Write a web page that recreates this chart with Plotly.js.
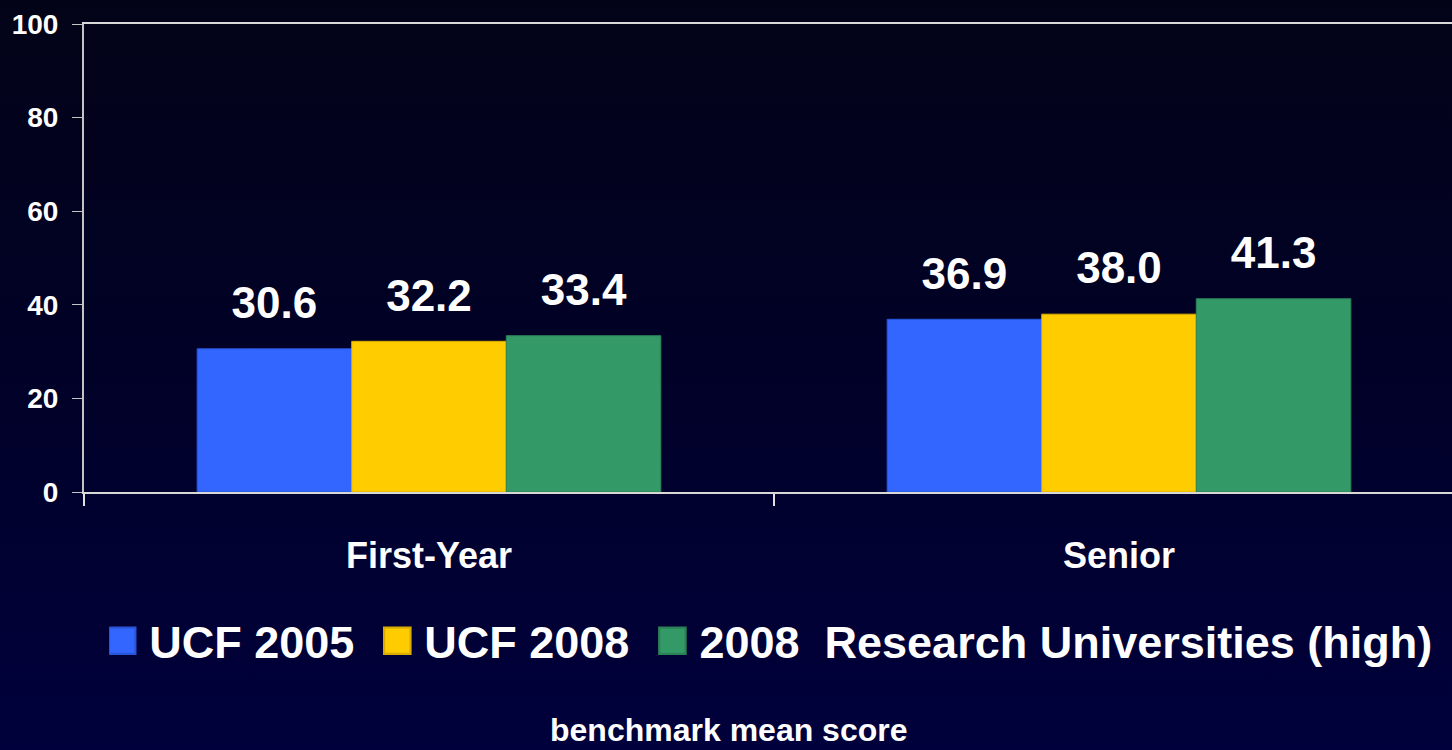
<!DOCTYPE html>
<html>
<head>
<meta charset="utf-8">
<script src="https://cdn.plot.ly/plotly-3.0.1.min.js"></script>
<style>
  html, body { margin: 0; padding: 0; }
  body { width: 1452px; height: 750px; background: linear-gradient(to bottom, #030318 0%, #010128 50%, #00003c 100%); }
  #chart { width: 1452px; height: 750px; }
</style>
</head>
<body>
<div id="chart"></div>
<script>
const categories = ["First-Year", "Senior"];
const seriesNames = ["UCF 2005", "UCF 2008", "2008\u00a0\u00a0Research Universities (high)"];
const ucf2005 = [30.6, 36.9];
const ucf2008 = [32.2, 38.0];
const research2008 = [33.4, 41.3];
const yTicks = [0, 20, 40, 60, 80, 100];
const axisTitle = "benchmark mean score";

const seriesValues = [ucf2005, ucf2008, research2008];
const colors = ["#3366FF", "#FFCC00", "#339966"];
const lineColors = ["#2a55d8", "#d9ad00", "#2b8257"];
const font = "Liberation Sans, Arial, sans-serif";
const legendPad = "\u00a0\u00a0";

const traces = [];
seriesValues.forEach((vals, i) => {
  traces.push({
    type: "bar",
    name: i < seriesNames.length - 1 ? seriesNames[i] + legendPad : seriesNames[i],
    x: categories,
    y: vals,
    marker: { color: colors[i], line: { color: lineColors[i], width: 1 } },
    hoverinfo: "skip",
    offsetgroup: "b" + i
  });
});
seriesValues.forEach((vals, i) => {
  traces.push({
    type: "scatter",
    mode: "markers+text",
    x: categories,
    y: vals,
    text: vals.map(v => v.toFixed(1)),
    textposition: "top center",
    textfont: { family: font, size: 44, color: "#ffffff", weight: "bold" },
    marker: { size: 30, color: "rgba(0,0,0,0)" },
    offsetgroup: "b" + i,
    showlegend: false,
    hoverinfo: "skip",
    cliponaxis: false
  });
});

const layout = {
  width: 1452,
  height: 750,
  margin: { l: 84, r: 0, t: 24, b: 258 },
  paper_bgcolor: "rgba(0,0,0,0)",
  plot_bgcolor: "rgba(0,0,0,0)",
  barmode: "group",
  bargap: 0.328,
  bargroupgap: 0,
  scattermode: "group",
  scattergap: 0.328,
  font: { family: font, color: "#ffffff", weight: "bold" },
  xaxis: {
    type: "category",
    range: [-0.5, 1.4826],
    showline: true,
    linecolor: "#d8d8d8",
    linewidth: 2,
    mirror: true,
    ticks: "outside",
    tickson: "boundaries",
    ticklen: 12,
    tickwidth: 2,
    tickcolor: "#e0e0e0",
    tickfont: { family: font, size: 36, color: "#ffffff", weight: "bold" },
    ticklabelstandoff: 31,
    showgrid: false,
    zeroline: false,
    fixedrange: true
  },
  yaxis: {
    range: [0, 100],
    tickvals: yTicks,
    ticktext: yTicks.map(String),
    showline: true,
    linecolor: "#c4c4c4",
    linewidth: 2,
    ticks: "outside",
    ticklen: 10,
    tickwidth: 1,
    tickcolor: "#c4c4c4",
    tickfont: { family: font, size: 28, color: "#ffffff", weight: "bold" },
    ticklabelstandoff: 8,
    showgrid: false,
    zeroline: false,
    fixedrange: true
  },
  showlegend: true,
  legend: {
    orientation: "h",
    xref: "container",
    yref: "container",
    x: 0.0752,
    xanchor: "left",
    y: 1 - 641 / 750,
    yanchor: "middle",
    font: { family: font, size: 45, color: "#ffffff", weight: "bold" },
    bgcolor: "rgba(0,0,0,0)",
    itemwidth: 30,
    traceorder: "normal"
  },
  annotations: [{
    text: axisTitle,
    xref: "paper",
    yref: "paper",
    x: (729 - 84) / 1368,
    y: (492 - 750) / 468,
    xanchor: "center",
    yanchor: "bottom",
    showarrow: false,
    font: { family: font, size: 32, color: "#ffffff", weight: "bold" }
  }]
};

Plotly.newPlot("chart", traces, layout, { staticPlot: true, displayModeBar: false }).then(gd => {
  gd.querySelectorAll(".legend .legendpoints path").forEach(p => {
    const t = p.getAttribute("transform") || "";
    p.setAttribute("transform", t + " translate(-7,0) scale(2.2)");
  });
});
</script>
</body>
</html>
